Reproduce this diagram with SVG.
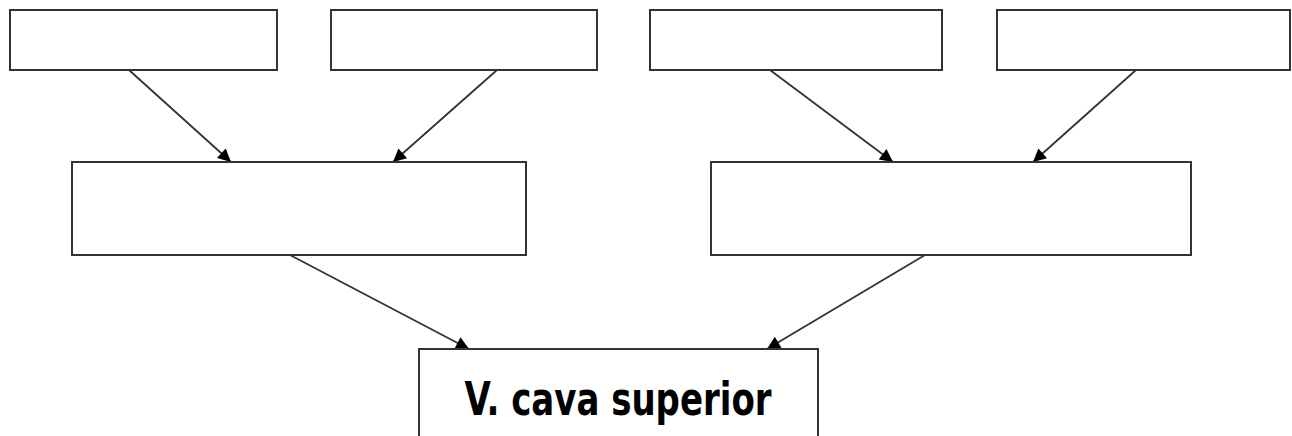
<svg xmlns="http://www.w3.org/2000/svg" width="1292" height="436" viewBox="0 0 1292 436">
<style>
.box{fill:#fff;stroke:#333;stroke-width:2}
.conn{stroke:#333;stroke-width:1.8;fill:none;marker-end:url(#ah)}
.lbl{font-family:"DejaVu Sans","Liberation Sans",sans-serif;font-weight:bold;font-size:46px;fill:#000}
</style>
<defs>
<marker id="ah" viewBox="0 0 10 10" refX="10" refY="5" markerWidth="16" markerHeight="13" markerUnits="userSpaceOnUse" orient="auto">
<path d="M0,0 L10,5 L0,10 z" fill="#000"/>
</marker>
</defs>
<rect width="1292" height="436" fill="#fff"/>
<g id="connectors">
<line class="conn" x1="129" y1="70" x2="231" y2="162"/>
<line class="conn" x1="497" y1="70" x2="393" y2="162"/>
<line class="conn" x1="770" y1="70" x2="893" y2="162"/>
<line class="conn" x1="1136" y1="70" x2="1033" y2="162"/>
<line class="conn" x1="290" y1="255" x2="469" y2="349"/>
<line class="conn" x1="925" y1="255" x2="767" y2="349"/>
</g>
<g id="n1"><rect class="box" x="10" y="10" width="267" height="60"/></g>
<g id="n2"><rect class="box" x="331" y="10" width="266" height="60"/></g>
<g id="n3"><rect class="box" x="650" y="10" width="292" height="60"/></g>
<g id="n4"><rect class="box" x="997" y="10" width="293" height="60"/></g>
<g id="n5"><rect class="box" x="72" y="162" width="454" height="93"/></g>
<g id="n6"><rect class="box" x="711" y="162" width="480" height="93"/></g>
<g id="n7"><rect class="box" x="419" y="349" width="399" height="100"/>
<text class="lbl" x="618" y="415" text-anchor="middle" textLength="307" lengthAdjust="spacingAndGlyphs">V. cava superior</text></g>
</svg>
